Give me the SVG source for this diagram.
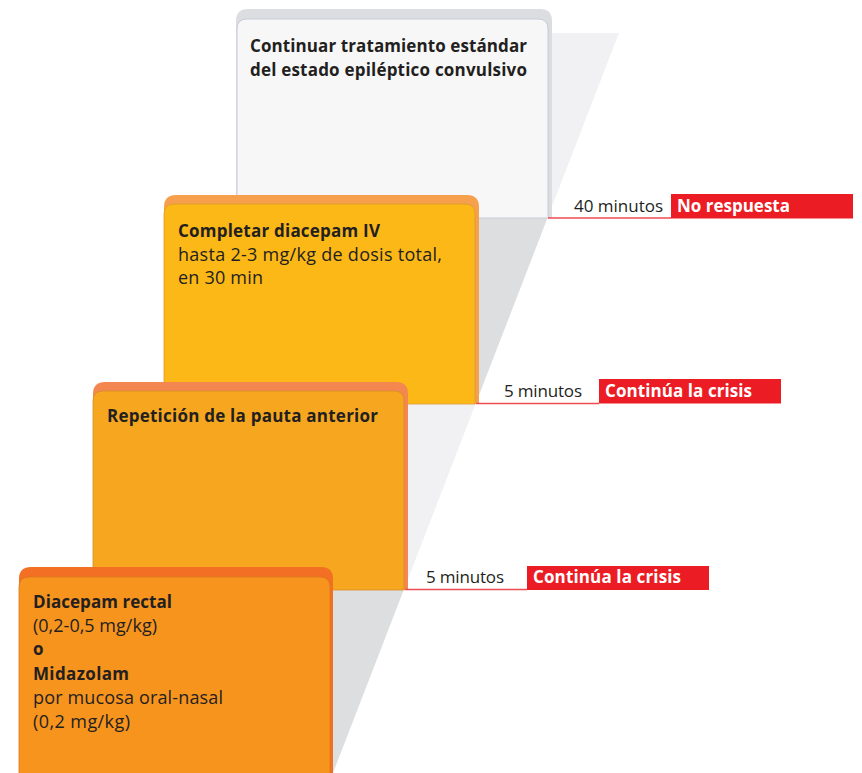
<svg xmlns="http://www.w3.org/2000/svg" width="862" height="773" viewBox="0 0 862 773">
<defs>
<style>
.t{font-family:"Open Sans","Liberation Sans",Arial,sans-serif;font-size:18px;fill:#231f20}
.b{font-weight:bold;font-size:17px}
.lbl{font-family:"Open Sans","Liberation Sans",Arial,sans-serif;font-size:17px;fill:#231f20}
.tag{font-family:"Open Sans","Liberation Sans",Arial,sans-serif;font-size:17px;font-weight:bold;fill:#ffffff}
.rl{stroke:#ef4b52;stroke-width:1.4;fill:none}
.box{fill:#ec1c24}
</style>
</defs>
<rect width="862" height="773" fill="#ffffff"/>
<g id="bands">
<polygon points="500,33 619,33 547.5,218 500,218" fill="#f1f1f3"/>
<polygon points="400,218 547.5,218 475.6,404 400,404" fill="#dddee0"/>
<polygon points="330,404 475.6,404 403.7,590 330,590" fill="#f1f1f3"/>
<polygon points="300,590 403.7,590 333,773 300,773" fill="#dddee0"/>
</g>
<g id="node1">
<path d="M236,218 V21 Q236,9 248,9 H540 Q552,9 552,21 V218 Z" fill="#dcdde0"/>
<path d="M237,218 V29 Q237,19 247,19 H538 Q548,19 548,29 V218 Z" fill="#f7f7f8" stroke="#c8ccd8" stroke-width="1"/>
<text class="t b" x="250" y="52" textLength="277">Continuar tratamiento estándar</text>
<text class="t b" x="250" y="76" textLength="277">del estado epiléptico convulsivo</text>
</g>
<g id="node2">
<path d="M164,404 V207 Q164,195 176,195 H467 Q479,195 479,207 V404 Z" fill="#f6a04d"/>
<path d="M164,404 V214 Q164,204 174,204 H465 Q475,204 475,214 V404 Z" fill="#fbb817" stroke="#dd9a2e" stroke-width="0.8"/>
<text class="t b" x="178" y="237" textLength="202">Completar diacepam IV</text>
<text class="t" x="178" y="261" textLength="264">hasta 2-3 mg/kg de dosis total,</text>
<text class="t" x="178" y="284" textLength="85">en 30 min</text>
</g>
<g id="node3">
<path d="M93,590 V394 Q93,382 105,382 H396 Q408,382 408,394 V590 Z" fill="#f4874f"/>
<path d="M93,590 V401 Q93,391 103,391 H394 Q404,391 404,401 V590 Z" fill="#f6a71f" stroke="#d98b2a" stroke-width="0.8"/>
<text class="t b" x="107" y="422" textLength="271">Repetición de la pauta anterior</text>
</g>
<g id="node4">
<path d="M19,775 V579 Q19,567 31,567 H321 Q333,567 333,579 V775 Z" fill="#f26f24"/>
<path d="M19,775 V587 Q19,577 29,577 H320 Q330,577 330,587 V775 Z" fill="#f7941e" stroke="#d9781c" stroke-width="0.8"/>
<text class="t b" x="33" y="608" textLength="139">Diacepam rectal</text>
<text class="t" x="33" y="632" textLength="124">(0,2-0,5 mg/kg)</text>
<text class="t b" x="33" y="655">o</text>
<text class="t b" x="33" y="680" textLength="96">Midazolam</text>
<text class="t" x="33" y="704" textLength="190">por mucosa oral-nasal</text>
<text class="t" x="33" y="728" textLength="97">(0,2 mg/kg)</text>
</g>
<g id="connectors">
<line class="rl" x1="548" y1="218" x2="671" y2="218"/>
<rect class="box" x="671" y="194" width="182" height="24.5"/>
<text class="lbl" x="574" y="211.5" textLength="89">40 minutos</text>
<text class="tag" x="677" y="211.5" textLength="113">No respuesta</text>
<line class="rl" x1="476" y1="403.5" x2="599" y2="403.5"/>
<rect class="box" x="599" y="379" width="182" height="24.5"/>
<text class="lbl" x="504" y="396.5" textLength="78">5 minutos</text>
<text class="tag" x="605" y="396.5" textLength="147">Continúa la crisis</text>
<line class="rl" x1="405" y1="589.5" x2="527" y2="589.5"/>
<rect class="box" x="527" y="566" width="182" height="24"/>
<text class="lbl" x="426" y="583" textLength="78">5 minutos</text>
<text class="tag" x="533" y="583" textLength="148">Continúa la crisis</text>
</g>
</svg>
